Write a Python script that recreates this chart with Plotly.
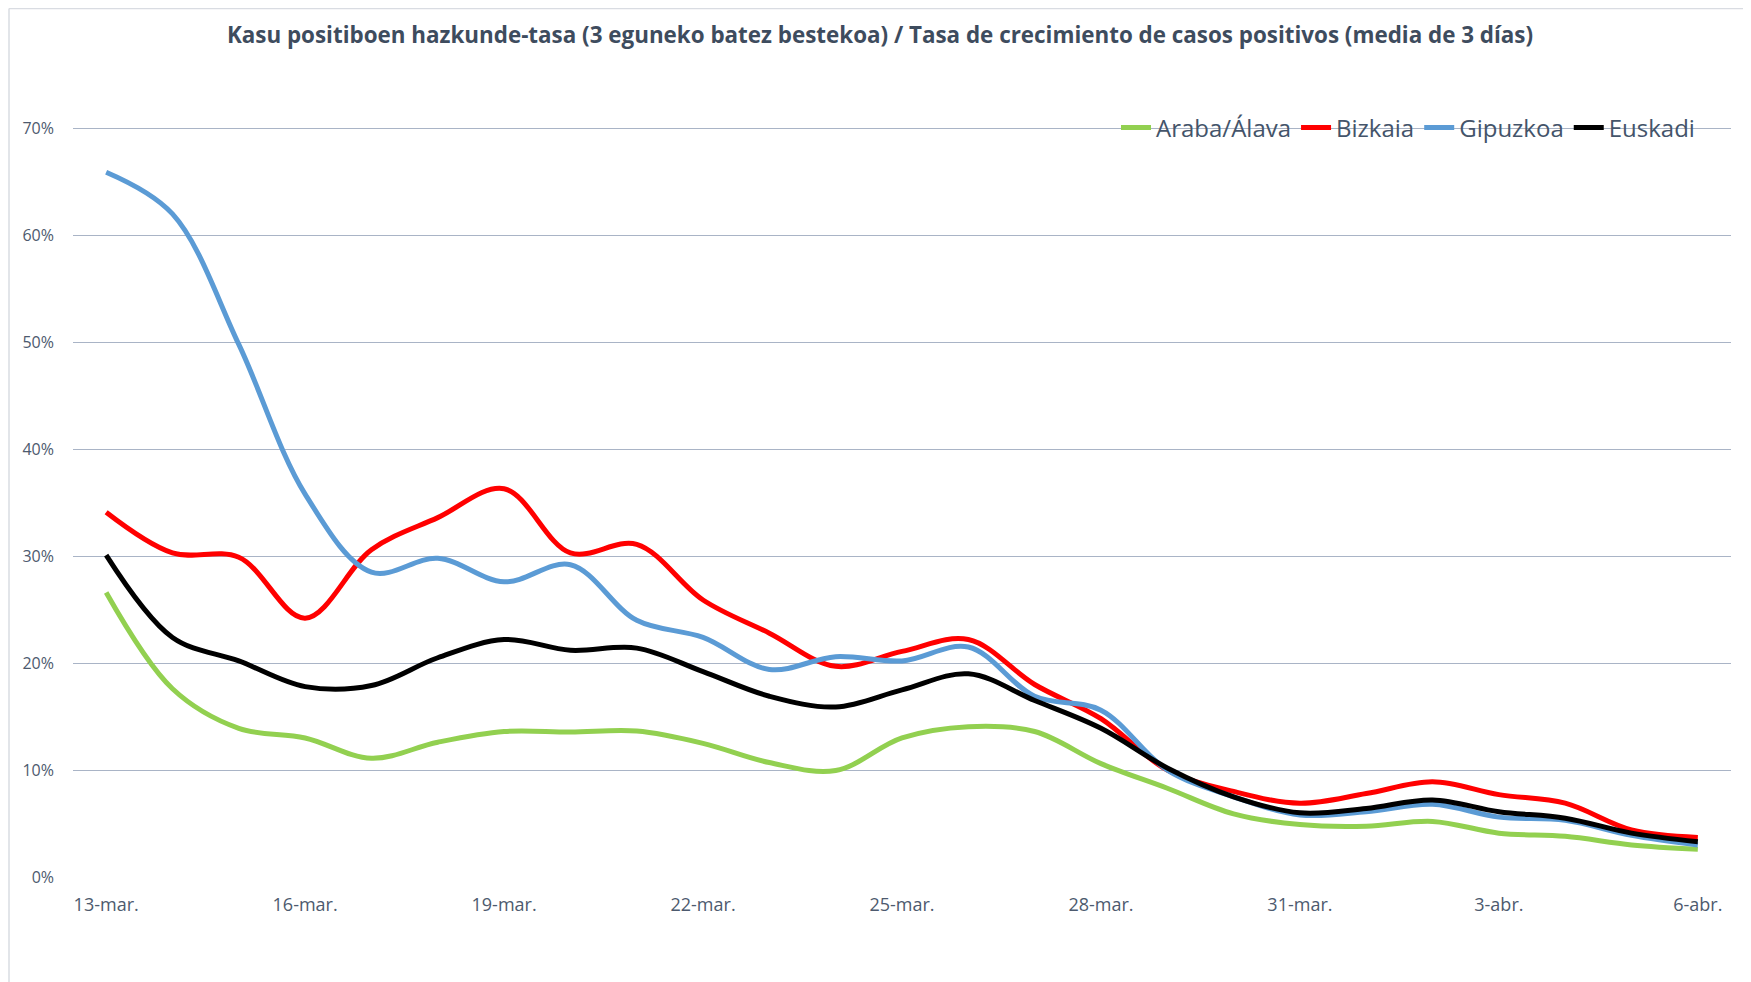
import plotly.graph_objects as go

dates = ["13-mar.", "14-mar.", "15-mar.", "16-mar.", "17-mar.", "18-mar.", "19-mar.",
         "20-mar.", "21-mar.", "22-mar.", "23-mar.", "24-mar.", "25-mar.", "26-mar.",
         "27-mar.", "28-mar.", "29-mar.", "30-mar.", "31-mar.", "1-abr.", "2-abr.",
         "3-abr.", "4-abr.", "5-abr.", "6-abr."]
tick_dates = dates[::3]

araba = [26.6, 17.6, 13.9, 13.0, 11.1, 12.6, 13.6, 13.55, 13.65, 12.5, 10.7, 9.95, 13.0,
         14.05, 13.6, 10.6, 8.3, 5.9, 4.9, 4.75, 5.2, 4.1, 3.8, 3.0, 2.6]
bizkaia = [34.1, 30.3, 29.9, 24.2, 30.6, 33.6, 36.3, 30.3, 31.1, 25.9, 22.8, 19.7, 21.1,
           22.2, 18.0, 14.8, 10.0, 8.0, 6.9, 7.8, 8.9, 7.7, 6.9, 4.4, 3.7]
gipuzkoa = [65.9, 62.0, 49.8, 35.8, 28.5, 29.8, 27.6, 29.2, 24.0, 22.4, 19.4, 20.6, 20.2,
            21.5, 16.9, 15.6, 10.0, 7.5, 5.8, 6.1, 6.8, 5.6, 5.3, 3.9, 3.0]
euskadi = [30.1, 22.4, 20.2, 17.8, 17.9, 20.5, 22.2, 21.2, 21.4, 19.2, 16.9, 15.9, 17.5,
           19.0, 16.5, 13.9, 10.2, 7.5, 6.0, 6.4, 7.2, 6.1, 5.5, 4.1, 3.3]

series_names = ["Araba/Álava", "Bizkaia", "Gipuzkoa", "Euskadi"]
series_vals = [araba, bizkaia, gipuzkoa, euskadi]
series_colors = ["#92D050", "#FF0000", "#5B9BD5", "#000000"]

y_ticks = [0, 10, 20, 30, 40, 50, 60, 70]
GRID = "#A9B4C6"

fig = go.Figure()
for name, vals, col in zip(series_names, series_vals, series_colors):
    fig.add_trace(go.Scatter(
        x=dates, y=[v / 100 for v in vals], name=name, mode="lines",
        line=dict(color=col, width=5, shape="spline", smoothing=1.0),
    ))

# page body has an 8px margin, so figure-space = page-space - 8
OFF = 8
W, H = 1751 - OFF, 982 - OFF
L, T = 73 - OFF, 128 - OFF
R = W - (1731 - OFF)
B = H - (877 - OFF)
pw, ph = W - L - R, H - T - B

fig.update_layout(
    width=W, height=H,
    margin=dict(l=L, r=R, t=T, b=B),
    paper_bgcolor="white", plot_bgcolor="white",
    font=dict(family="Open Sans", color="#4D5A6E"),
    title=dict(
        text="<b>Kasu positiboen hazkunde-tasa (3 eguneko batez bestekoa) / Tasa de crecimiento de casos positivos (media de 3 días)</b>",
        x=(880 - OFF) / W, xanchor="center", y=1 - (35 - OFF) / H, yanchor="middle",
        font=dict(family="Open Sans", size=22.4, color="#3E4C5E"),
    ),
    showlegend=True,
    legend=dict(
        orientation="h", x=(1700 - 73) / pw, xanchor="right",
        y=1.0, yanchor="middle", bgcolor="rgba(0,0,0,0)",
        font=dict(family="Open Sans", size=24, color="#44546A"),
    ),
    xaxis=dict(
        type="category", range=[-0.5, 24.5],
        tickmode="array", tickvals=tick_dates, ticktext=tick_dates,
        showgrid=False, showline=False, zeroline=False, ticks="",
        tickfont=dict(size=18, color="#4D5A6E"), ticklabelstandoff=15,
    ),
    yaxis=dict(
        range=[0, 0.7003], tickvals=[v / 100 for v in y_ticks],
        ticktext=[f"{v}%" for v in y_ticks],
        showgrid=True, gridcolor=GRID, gridwidth=1.3,
        zeroline=False, showline=False, ticks="",
        tickfont=dict(size=16, color="#4D5A6E"), ticklabelstandoff=18,
    ),
)

# top gridline (70%) drawn explicitly
fig.add_shape(type="line", xref="paper", yref="y", x0=0, x1=1,
              y0=y_ticks[-1] / 100, y1=y_ticks[-1] / 100,
              line=dict(color=GRID, width=1.3), layer="below")

# chart-area border (left and top edges visible)
bx = (9 - 73) / pw
by = (877 - 8.5) / ph
fig.add_shape(type="line", xref="paper", yref="paper", x0=bx, x1=bx, y0=by, y1=-1,
              line=dict(color="#D9DCE2", width=1.5), layer="below")
fig.add_shape(type="line", xref="paper", yref="paper", x0=bx, x1=2, y0=by, y1=by,
              line=dict(color="#D9DCE2", width=1.5), layer="below")

fig.write_html("out.html")
